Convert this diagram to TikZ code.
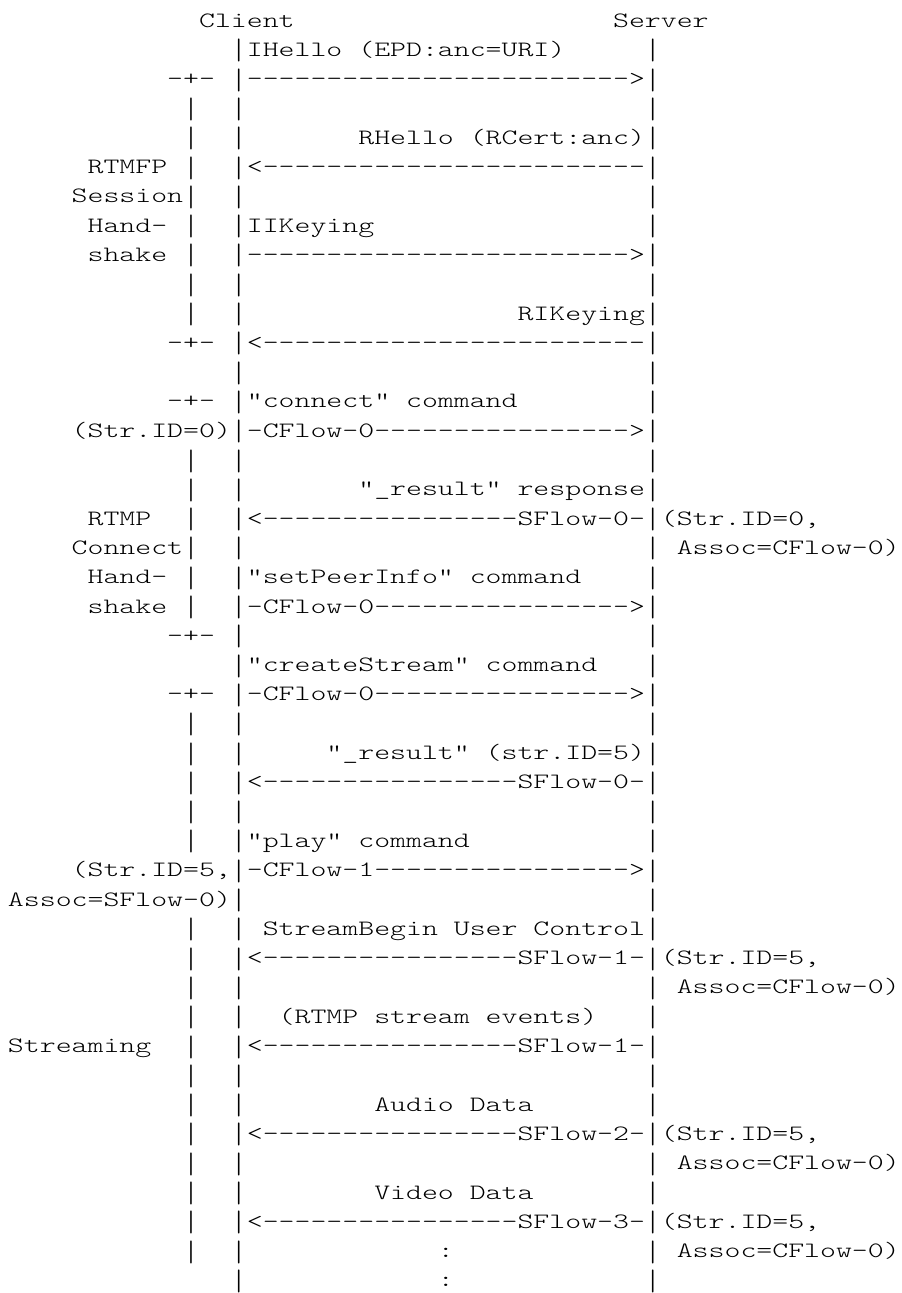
\documentclass[tikz,border=0pt]{standalone}
\usepackage{graphicx}
\usepackage{fontspec}
\newfontfamily\asciifont{lmmonolt10-regular.otf}[FakeStretch=1.385,Ligatures=TeXOff]
\newcommand{\asciisize}{\fontsize{21.9pt}{29.3pt}\selectfont}
\newcommand{\vbar}{\raisebox{-3.5pt}{\scalebox{1}[1.35]{|}}}
\newlength{\colw}
\settowidth{\colw}{\asciifont\asciisize M}

\tikzset{
    chars/.style={font=\asciifont\asciisize, anchor=base west, inner sep=0pt, outer sep=0pt}
}

\begin{document}
\begin{tikzpicture}[x=\colw, y=-29.3pt]
    \useasboundingbox (-8pt,-2.3pt) rectangle (894pt,-1295.3pt);

    \node[chars] (client) at (12,1) {Client};
    \node[chars] (server) at (38,1) {Server};

    % lifelines, one bar per row
    \foreach \r in {2,...,44} {
        \node[chars] (cl-\r) at (14,\r) {\vbar};
        \node[chars] (sv-\r) at (40,\r) {\vbar};
    }
    % phase brackets
    \foreach \a/\b in {4/11,16/21,25/29,32/43} {
        \foreach \r in {\a,...,\b} \node[chars] (br-\r) at (11,\r) {\vbar};
    }
    \foreach \r in {3,12,14,22,24} \node[chars] (tip-\r) at (10,\r) {-+-};

    \node[chars] (rtmfp)   at (5,6)  {RTMFP};
    \node[chars] (session) at (4,7)  {Session};
    \node[chars] (hand-a)  at (5,8)  {Hand-};
    \node[chars] (shake-a) at (5,9)  {shake};
    \node[chars] (sid-0)   at (4,15) {(Str.ID=0)};
    \node[chars] (rtmp)    at (5,18) {RTMP};
    \node[chars] (connect) at (4,19) {Connect};
    \node[chars] (hand-b)  at (5,20) {Hand-};
    \node[chars] (shake-b) at (5,21) {shake};
    \node[chars] (sid-5)   at (4,30) {(Str.ID=5,};
    \node[chars] (assoc-s) at (0,31) {Assoc=SFlow-0)};
    \node[chars] (stream)  at (0,36) {Streaming};

    % messages
    \node[chars] (ihello)      at (15,2)  {IHello (EPD:anc=URI)};
    \node[chars] (ihello-ar)   at (15,3)  {------------------------>};
    \node[chars] (rhello)      at (22,5)  {RHello (RCert:anc)};
    \node[chars] (rhello-ar)   at (15,6)  {<------------------------};
    \node[chars] (iikey)       at (15,8)  {IIKeying};
    \node[chars] (iikey-ar)    at (15,9)  {------------------------>};
    \node[chars] (rikey)       at (32,11) {RIKeying};
    \node[chars] (rikey-ar)    at (15,12) {<------------------------};
    \node[chars] (connect-c)   at (15,14) {"connect" command};
    \node[chars] (connect-ar)  at (15,15) {-CFlow-0---------------->};
    \node[chars] (result-a)    at (22,17) {"\_result" response};
    \node[chars] (result-a-ar) at (15,18) {<----------------SFlow-0-};
    \node[chars] (result-a-id) at (41,18) {(Str.ID=0,};
    \node[chars] (result-a-as) at (42,19) {Assoc=CFlow-0)};
    \node[chars] (peer)        at (15,20) {"setPeerInfo" command};
    \node[chars] (peer-ar)     at (15,21) {-CFlow-0---------------->};
    \node[chars] (create)      at (15,23) {"createStream" command};
    \node[chars] (create-ar)   at (15,24) {-CFlow-0---------------->};
    \node[chars] (result-b)    at (20,26) {"\_result" (str.ID=5)};
    \node[chars] (result-b-ar) at (15,27) {<----------------SFlow-0-};
    \node[chars] (play)        at (15,29) {"play" command};
    \node[chars] (play-ar)     at (15,30) {-CFlow-1---------------->};
    \node[chars] (begin)       at (16,32) {StreamBegin User Control};
    \node[chars] (begin-ar)    at (15,33) {<----------------SFlow-1-};
    \node[chars] (begin-id)    at (41,33) {(Str.ID=5,};
    \node[chars] (begin-as)    at (42,34) {Assoc=CFlow-0)};
    \node[chars] (events)      at (17,35) {(RTMP stream events)};
    \node[chars] (events-ar)   at (15,36) {<----------------SFlow-1-};
    \node[chars] (audio)       at (23,38) {Audio Data};
    \node[chars] (audio-ar)    at (15,39) {<----------------SFlow-2-};
    \node[chars] (audio-id)    at (41,39) {(Str.ID=5,};
    \node[chars] (audio-as)    at (42,40) {Assoc=CFlow-0)};
    \node[chars] (video)       at (23,41) {Video Data};
    \node[chars] (video-ar)    at (15,42) {<----------------SFlow-3-};
    \node[chars] (video-id)    at (41,42) {(Str.ID=5,};
    \node[chars] (video-as)    at (42,43) {Assoc=CFlow-0)};
    \node[chars] (more-a)      at (27,43) {:};
    \node[chars] (more-b)      at (27,44) {:};
\end{tikzpicture}
\end{document}
